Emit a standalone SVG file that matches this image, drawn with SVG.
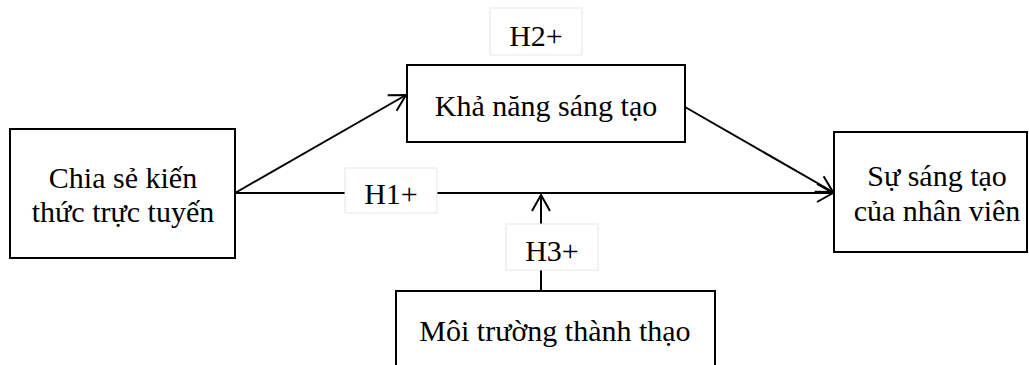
<svg xmlns="http://www.w3.org/2000/svg" width="1029" height="365" viewBox="0 0 1029 365">
<defs>
<marker id="arr" viewBox="0 0 20 22" refX="18" refY="11" markerWidth="20" markerHeight="22" markerUnits="userSpaceOnUse" orient="auto">
<path d="M2,2 L18,11 L2,20" fill="none" stroke="#000" stroke-width="2"/>
</marker>
</defs>
<style>
.box{fill:#fff;stroke:#000;stroke-width:2}
.lbl{fill:#fff;stroke:#e6e6e6;stroke-width:1}
.t{font-family:"Liberation Serif","Times New Roman",serif;font-size:30px;fill:#000;text-anchor:middle}
.c{stroke:#000;stroke-width:2;fill:none}
</style>
<rect width="1029" height="365" fill="#fff"/>
<g id="connectors">
<line class="c" x1="235" y1="193" x2="833" y2="193" marker-end="url(#arr)"/>
<line class="c" x1="235" y1="193" x2="406" y2="95" marker-end="url(#arr)"/>
<line class="c" x1="685" y1="107" x2="833" y2="192" marker-end="url(#arr)"/>
<line class="c" x1="541" y1="224" x2="541" y2="195" marker-end="url(#arr)"/>
<line class="c" x1="541" y1="291" x2="541" y2="270"/>
</g>
<g id="n1">
<rect class="box" x="10" y="129" width="225" height="129"/>
<text class="t" x="123" y="188">Chia sẻ kiến</text>
<text class="t" x="123" y="222">thức trực tuyến</text>
</g>
<g id="n2">
<rect class="box" x="407" y="65" width="278" height="77"/>
<text class="t" x="546" y="116">Khả năng sáng tạo</text>
</g>
<g id="n3">
<rect class="box" x="834" y="132" width="193" height="120"/>
<text class="t" x="937" y="186">Sự sáng tạo</text>
<text class="t" x="937" y="221">của nhân viên</text>
</g>
<g id="n4">
<rect class="box" x="396" y="291" width="319" height="80"/>
<text class="t" x="555" y="341">Môi trường thành thạo</text>
</g>
<g id="h2">
<rect class="lbl" x="490" y="8" width="92" height="47"/>
<text class="t" x="536" y="46">H2+</text>
</g>
<g id="h1">
<rect class="lbl" x="345" y="168" width="92" height="45"/>
<text class="t" x="391" y="204">H1+</text>
</g>
<g id="h3">
<rect class="lbl" x="506" y="224" width="92" height="46"/>
<text class="t" x="552" y="261">H3+</text>
</g>
</svg>
